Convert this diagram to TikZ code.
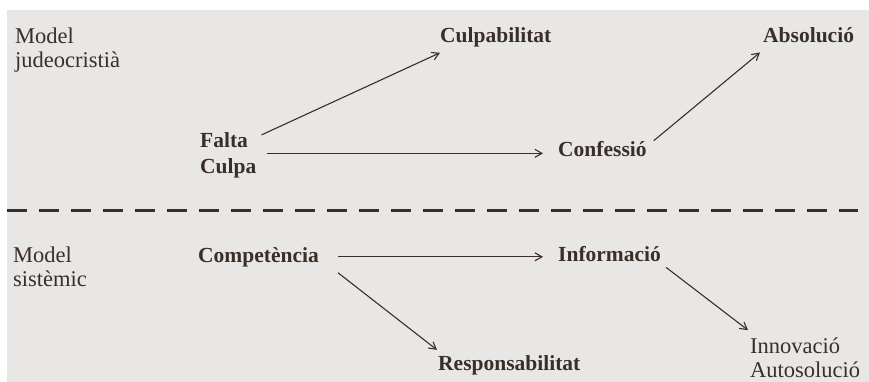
\documentclass[tikz,border=0pt]{standalone}
\usepackage{fontspec}
\setmainfont{Liberation Serif}
\usetikzlibrary{arrows.meta,calc}
\definecolor{fons}{HTML}{E8E7E5}
\definecolor{tinta}{HTML}{3A2E29}
\tikzset{
	model/.style={anchor=base west,inner sep=0pt,align=left,text=tinta,font=\fontsize{22.5}{24}\selectfont},
	terme/.style={anchor=base west,inner sep=0pt,align=left,text=tinta,font=\fontsize{21.5}{25}\selectfont\bfseries},
	fletxa/.style={tinta,line width=1.1pt,-{Straight Barb[length=7pt,width=8pt]}}
}
\begin{document}
\begin{tikzpicture}[x=1pt,y=-1pt]
	\useasboundingbox (0,0) rectangle (869,382);
	\fill[fons] (7,10) rectangle (869,382);
	\draw[tinta,line width=3pt,dash pattern=on 20pt off 12pt] (7,210)--(858,210);
	% model judeocristia (base = last line)
	\node[model] (mjud) at (15,68) {Model\\judeocristià};
	\node[terme] (falta) at (200,173) {Falta\\Culpa};
	\node[terme] (culpab) at (440,43) {Culpabilitat};
	\node[terme] (confessio) at (558,157) {Confessió};
	\node[terme] (absol) at (763,43) {Absolució};
	\draw[fletxa] ($(falta.north east)+(5,2)$) -- ($(culpab.south west)+(0,5)$);
	\draw[fletxa] ($(falta.east)+(10,-2)$) -- ($(falta.east -| confessio.west)+(-15,-2)$);
	\draw[fletxa] ($(confessio.north east)+(7,-1)$) -- ($(absol.south west)+(-3,9)$);
	% model sistemic
	\node[model] (msist) at (13,286) {Model\\sistèmic};
	\node[terme] (comp) at (198,262) {Competència};
	\node[terme] (info) at (558,261) {Informació};
	\node[terme] (respons) at (438,370) {Responsabilitat};
	\node[model] (innov) at (750,377) {Innovació\\Autosolució};
	\draw[fletxa] ($(comp.east)+(19,0)$) -- ($(comp.east -| info.west)+(-15,0)$);
	\draw[fletxa] ($(comp.south east)+(19,6)$) -- ($(respons.north west)+(-1,-5)$);
	\draw[fletxa] ($(info.south east)+(5,6)$) -- ($(innov.north west)+(-2,-7)$);
\end{tikzpicture}
\end{document}
